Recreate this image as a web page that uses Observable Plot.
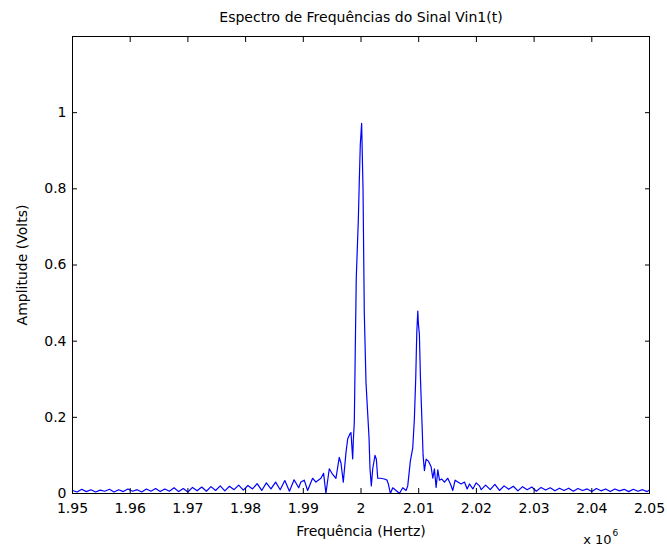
<!DOCTYPE html>
<html><head><meta charset="utf-8">
<script src="https://cdn.jsdelivr.net/npm/d3@7"></script>
<script src="https://cdn.jsdelivr.net/npm/@observablehq/plot@0.6"></script>
<style>body{margin:0;background:#fff} #chart{width:667px;height:550px}</style>
</head><body><div id="chart"></div>
<script>
const title = "Espectro de Frequências do Sinal Vin1(t)";
const xLabel = "Frequência (Hertz)";
const yLabel = "Amplitude (Volts)";
const xMultiplier = "x 10";
const xMultiplierExp = "6";
const xTicks = [1.95, 1.96, 1.97, 1.98, 1.99, 2.00, 2.01, 2.02, 2.03, 2.04, 2.05];
const xTickLabels = ["1.95", "1.96", "1.97", "1.98", "1.99", "2", "2.01", "2.02", "2.03", "2.04", "2.05"];
const yTicks = [0, 0.2, 0.4, 0.6, 0.8, 1.0];
const yTickLabels = ["0", "0.2", "0.4", "0.6", "0.8", "1"];

// frequency (x 10^6 Hz) and amplitude (V)
const freqs = [
  1.9500, 1.9508, 1.9516, 1.9524, 1.9532, 1.9540, 1.9548, 1.9556, 1.9564, 1.9572,
  1.9580, 1.9588, 1.9596, 1.9604, 1.9612, 1.9620, 1.9628, 1.9636, 1.9644, 1.9652,
  1.9660, 1.9668, 1.9676, 1.9684, 1.9692, 1.9700, 1.9708, 1.9716, 1.9724, 1.9732,
  1.9740, 1.9748, 1.9756, 1.9764, 1.9772, 1.9780, 1.9788, 1.9796, 1.9804, 1.9812,
  1.9820, 1.9828, 1.9836, 1.9844, 1.9852, 1.9860, 1.9868, 1.9876, 1.9884, 1.9892,
  1.98958, 1.99016, 1.99075, 1.99161, 1.99219, 1.99306, 1.99352, 1.99392, 1.99450, 1.99509,
  1.99566, 1.99623, 1.99653, 1.99693, 1.99740, 1.99769, 1.99809, 1.99826, 1.99856, 1.99867,
  1.99884, 1.99901, 1.99918, 1.99953, 1.99970, 1.99988, 2.00011, 2.00035, 2.00057, 2.00087,
  2.00116, 2.00139, 2.00156, 2.00179, 2.00203, 2.00243, 2.00266, 2.00290, 2.00335, 2.00405,
  2.00451, 2.00474, 2.00509, 2.00550, 2.00608, 2.00666, 2.00723, 2.00781, 2.00810, 2.00855,
  2.00897, 2.00925, 2.00949, 2.00966, 2.00984, 2.00995, 2.01012, 2.01030, 2.01054, 2.01076,
  2.01099, 2.01128, 2.01169, 2.01215, 2.01245, 2.01272, 2.01302, 2.01331, 2.01360, 2.01400,
  2.01446, 2.01504, 2.01550, 2.01591, 2.01631, 2.01678, 2.01736, 2.01793, 2.01840, 2.01880,
  2.01939, 2.01996, 2.02054, 2.02083,
  2.0216, 2.0224, 2.0232, 2.0240, 2.0248, 2.0256, 2.0264, 2.0272, 2.0280, 2.0288,
  2.0296, 2.0304, 2.0312, 2.0320, 2.0328, 2.0336, 2.0344, 2.0352, 2.0360, 2.0368,
  2.0376, 2.0384, 2.0392, 2.0400, 2.0408, 2.0416, 2.0424, 2.0432, 2.0440, 2.0448,
  2.0456, 2.0464, 2.0472, 2.0480, 2.0488, 2.0496, 2.0500
];
const amps = [
  0.008, 0.004, 0.011, 0.005, 0.010, 0.004, 0.009, 0.006, 0.011, 0.004,
  0.010, 0.005, 0.012, 0.006, 0.010, 0.004, 0.012, 0.006, 0.013, 0.005,
  0.012, 0.006, 0.015, 0.005, 0.013, 0.004, 0.016, 0.007, 0.017, 0.006,
  0.018, 0.008, 0.020, 0.007, 0.019, 0.010, 0.022, 0.009, 0.021, 0.012,
  0.026, 0.008, 0.028, 0.012, 0.030, 0.010, 0.034, 0.006, 0.036, 0.015,
  0.030, 0.035, 0.008, 0.040, 0.030, 0.040, 0.053, 0.000, 0.065, 0.050,
  0.040, 0.095, 0.080, 0.030, 0.108, 0.143, 0.157, 0.160, 0.091, 0.140,
  0.187, 0.380, 0.566, 0.715, 0.817, 0.917, 0.972, 0.800, 0.475, 0.290,
  0.210, 0.147, 0.065, 0.020, 0.065, 0.100, 0.090, 0.040, 0.040, 0.038,
  0.035, 0.025, 0.000, 0.015, 0.008, 0.000, 0.015, 0.008, 0.020, 0.085,
  0.120, 0.196, 0.305, 0.418, 0.479, 0.445, 0.418, 0.305, 0.200, 0.100,
  0.060, 0.090, 0.085, 0.070, 0.040, 0.065, 0.016, 0.062, 0.035, 0.038,
  0.030, 0.040, 0.025, 0.008, 0.035, 0.030, 0.025, 0.030, 0.012, 0.025,
  0.012, 0.028, 0.020, 0.010,
  0.022, 0.010, 0.024, 0.008, 0.020, 0.011, 0.019, 0.007, 0.018, 0.010,
  0.017, 0.006, 0.016, 0.009, 0.015, 0.007, 0.014, 0.008, 0.014, 0.006,
  0.013, 0.008, 0.012, 0.005, 0.013, 0.007, 0.012, 0.005, 0.012, 0.007,
  0.011, 0.005, 0.011, 0.006, 0.010, 0.005, 0.009
];

const data = freqs.map((f, i) => ({f, a: amps[i]}));
const font = "DejaVu Sans, Liberation Sans, sans-serif";
const fs = 14;
const xFmt = d => xTickLabels[xTicks.indexOf(d)];
const yFmt = d => yTickLabels[yTicks.indexOf(d)];

const chart = Plot.plot({
  width: 667,
  height: 550,
  marginLeft: 72,
  marginRight: 18,
  marginTop: 36,
  marginBottom: 57,
  style: {fontFamily: font, fontSize: fs + "px", color: "#000", background: "#fff"},
  x: {domain: [1.95, 2.05]},
  y: {domain: [0, 1.2]},
  marks: [
    Plot.line(data, {x: "f", y: "a", stroke: "#0000ff", strokeWidth: 1.2}),
    Plot.frame({stroke: "#000", strokeWidth: 1}),
    Plot.axisX(xTicks, {anchor: "bottom", tickSize: -5, tickPadding: 15, tickFormat: xFmt, fontSize: fs, label: null}),
    Plot.axisX(xTicks, {anchor: "top", tickSize: -5, tickFormat: () => "", label: null}),
    Plot.axisY(yTicks, {anchor: "left", tickSize: -5, tickPadding: 11, tickFormat: yFmt, fontSize: fs, label: null}),
    Plot.axisY(yTicks, {anchor: "right", tickSize: -5, tickFormat: () => "", label: null}),
    Plot.text([title], {frameAnchor: "top", dy: -24, fontSize: fs, fill: "#000"}),
    Plot.text([xLabel], {frameAnchor: "bottom", dy: 42, fontSize: fs, fill: "#000"}),
    Plot.text([yLabel], {frameAnchor: "left", textAnchor: "middle", dx: -50, rotate: -90, fontSize: fs, fill: "#000"}),
    Plot.text([xMultiplier], {frameAnchor: "bottom-right", textAnchor: "end", dx: -38, dy: 50, fontSize: 13, fill: "#000"}),
    Plot.text([xMultiplierExp], {frameAnchor: "bottom-right", textAnchor: "start", dx: -37, dy: 42, fontSize: 9, fill: "#000"})
  ]
});
document.getElementById("chart").appendChild(chart);
</script>
</body></html>
